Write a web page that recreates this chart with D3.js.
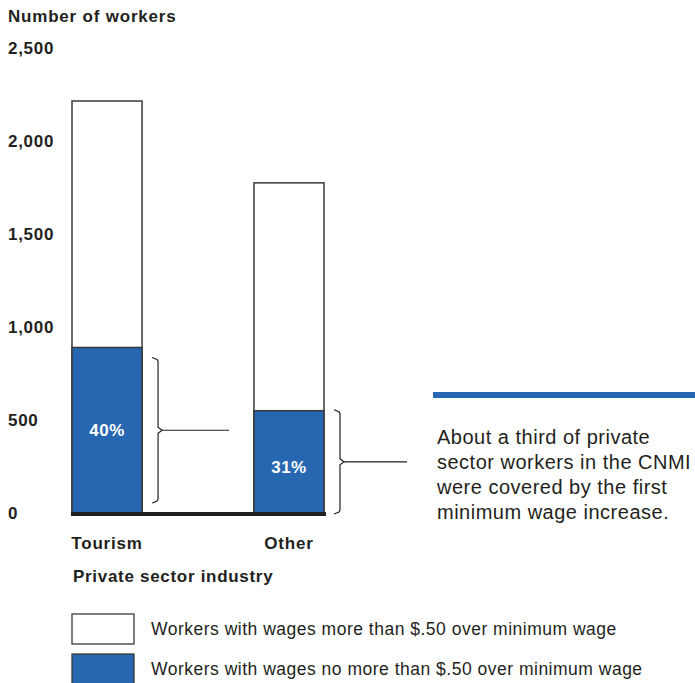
<!DOCTYPE html>
<html>
<head>
<meta charset="utf-8">
<script src="https://cdn.jsdelivr.net/npm/d3@7"></script>
<style>
  body { margin: 0; background: #fff; }
  svg { font-family: "Liberation Sans", Arial, sans-serif; display: block; }
</style>
</head>
<body>
<svg width="695" height="683"></svg>
<script>
// valores
const categories = ["Tourism", "Other"]
const totalWorkers = [2215, 1775]
const nearMinimum = [890, 550]
const shareLabels = ["40%", "31%"]
const yTicks = [0, 500, 1000, 1500, 2000, 2500]
const legendLabels = [
  "Workers with wages more than $.50 over minimum wage",
  "Workers with wages no more than $.50 over minimum wage"
]
const note = ["About a third of private", "sector workers in the CNMI", "were covered by the first", "minimum wage increase."]

const blue = "#2767b2", ink = "#231f20"
const svg = d3.select("svg")

const y = d3.scaleLinear().domain([0, 2500]).range([513, 48])
const x = d3.scaleBand().domain(categories).range([72, 324]).paddingInner(0.615).paddingOuter(0)

// eje y (solo etiquetas)
svg.append("text").attr("x", 8).attr("y", 22)
  .attr("font-size", 17).attr("font-weight", "bold").attr("letter-spacing", 0.8).attr("fill", ink)
  .text("Number of workers")

const yAxis = svg.append("g").attr("transform", "translate(56,0)")
  .call(d3.axisLeft(y).tickValues(yTicks).tickSize(0).tickPadding(0).tickFormat(d3.format(",")))
yAxis.select(".domain").remove()
yAxis.selectAll("text")
  .attr("x", -48).attr("dy", "0.3em").attr("text-anchor", "start")
  .attr("font-size", 17).attr("font-weight", "bold").attr("letter-spacing", 0.7).attr("fill", ink)
  .attr("font-family", "Liberation Sans, Arial, sans-serif")

// barras
const labelShift = [6, 11]
const rows = categories.map((c, i) => ({ c, total: totalWorkers[i], low: nearMinimum[i], label: shareLabels[i], shift: labelShift[i] }))

svg.selectAll(".tot").data(rows).join("rect")
  .attr("x", d => x(d.c)).attr("width", x.bandwidth())
  .attr("y", d => y(d.total)).attr("height", d => y(0) - y(d.total))
  .attr("fill", "#fff").attr("stroke", "#3a3a3a").attr("stroke-width", 1.5)

svg.selectAll(".low").data(rows).join("rect")
  .attr("x", d => x(d.c)).attr("width", x.bandwidth())
  .attr("y", d => y(d.low)).attr("height", d => y(0) - y(d.low))
  .attr("fill", blue).attr("stroke", "#3a3a3a").attr("stroke-width", 1.5)

svg.selectAll(".pct").data(rows).join("text")
  .attr("x", d => x(d.c) + x.bandwidth() / 2)
  .attr("y", d => (y(d.low) + y(0)) / 2 + d.shift)
  .attr("text-anchor", "middle").attr("fill", "#fff")
  .attr("font-size", 17).attr("font-weight", "bold").attr("letter-spacing", 0.5)
  .text(d => d.label)

// linea base
svg.append("line").attr("x1", 71).attr("x2", 326).attr("y1", y(0) + 1).attr("y2", y(0) + 1)
  .attr("stroke", ink).attr("stroke-width", 4)

// llaves
const braceInset = [10, -1]
const leaderEnd = [229, 407]
rows.forEach((d, i) => {
  const x0 = x(d.c) + x.bandwidth() + 10
  const t = y(d.low) + braceInset[i], b = y(0) - braceInset[i]
  const m = (t + b) / 2
  const p = d3.path()
  p.moveTo(x0, t); p.lineTo(x0 + 5, t + 2); p.lineTo(x0 + 6, t + 4)
  p.lineTo(x0 + 6, m - 3); p.lineTo(x0 + 10, m); p.lineTo(x0 + 6, m + 3)
  p.lineTo(x0 + 6, b - 4); p.lineTo(x0 + 5, b - 2); p.lineTo(x0, b)
  svg.append("path").attr("d", p.toString()).attr("fill", "none")
    .attr("stroke", ink).attr("stroke-width", 1.2)
  svg.append("line").attr("x1", x0 + 10).attr("x2", leaderEnd[i]).attr("y1", m).attr("y2", m)
    .attr("stroke", ink).attr("stroke-width", 1.2)
})

// categorias
svg.selectAll(".cat").data(categories).join("text")
  .attr("x", d => x(d) + x.bandwidth() / 2).attr("y", 549)
  .attr("text-anchor", "middle").attr("font-size", 17).attr("font-weight", "bold")
  .attr("letter-spacing", 0.8).attr("fill", ink)
  .text(d => d)
svg.append("text").attr("x", 73).attr("y", 582)
  .attr("font-size", 17).attr("font-weight", "bold").attr("letter-spacing", 0.7).attr("fill", ink)
  .text("Private sector industry")

// nota
svg.append("rect").attr("x", 433).attr("y", 392).attr("width", 262).attr("height", 6).attr("fill", blue)
svg.append("text").attr("x", 437).attr("y", 444)
  .attr("font-size", 20).attr("letter-spacing", 0.5).attr("fill", ink)
  .selectAll("tspan").data(note).join("tspan")
  .attr("x", 437).attr("dy", (d, i) => i ? 25 : 0).text(d => d)

// leyenda
const legend = svg.selectAll(".leg").data(legendLabels).join("g")
  .attr("transform", (d, i) => `translate(72,${614 + i * 40})`)
legend.append("rect").attr("width", 62).attr("height", 30)
  .attr("fill", (d, i) => i ? blue : "#fff").attr("stroke", "#3a3a3a").attr("stroke-width", 1.3)
legend.append("text").attr("x", 79).attr("y", 21)
  .attr("font-size", 17.5).attr("letter-spacing", 0.5).attr("fill", ink).text(d => d)
</script>
</body>
</html>
